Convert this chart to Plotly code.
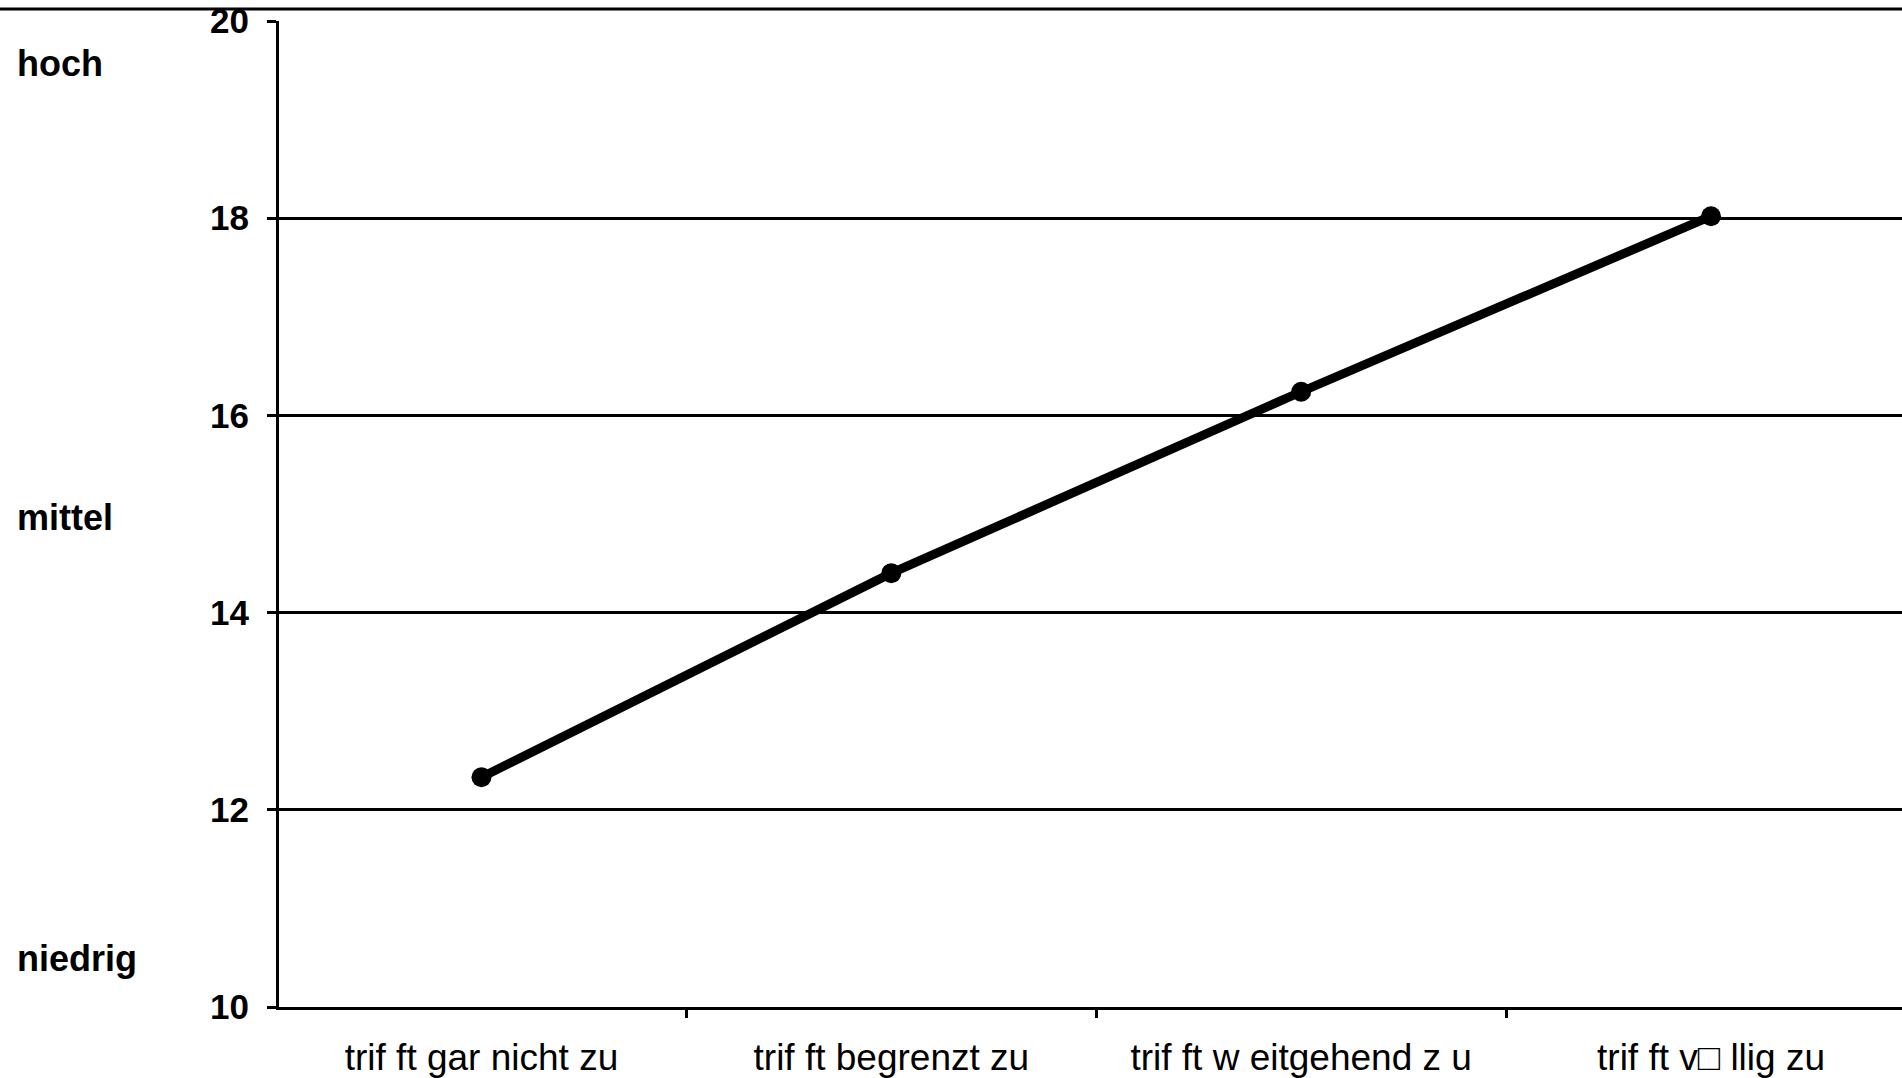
import plotly.graph_objects as go

categories = ["trif ft gar nicht zu", "trif ft begrenzt zu", "trif ft w eitgehend z u", "trif ft v\u25a1 llig zu"]
values = [12.33, 14.40, 16.24, 18.02]
y_ticks = [10, 12, 14, 16, 18, 20]
level_labels = ["hoch", "mittel", "niedrig"]
level_positions = [19.57, 14.96, 10.49]

W, H = 1902, 1078
ML, MT, MB, MR = 279, 21, 71, 0
plot_w = W - ML - MR

FONT = "Liberation Sans, Arial, sans-serif"

fig = go.Figure()
fig.add_trace(go.Scatter(
    x=categories, y=values,
    mode="lines+markers",
    line=dict(color="black", width=9),
    marker=dict(color="black", size=20, symbol="circle"),
    showlegend=False, hoverinfo="skip",
))

annotations = []
for lab, pos in zip(level_labels, level_positions):
    annotations.append(dict(
        text=lab, x=(15 - ML) / plot_w, xref="paper", xanchor="left",
        y=pos, yref="y", yanchor="middle", showarrow=False,
        font=dict(family=FONT, size=36, color="black", weight="bold"),
    ))

fig.update_layout(
    width=W, height=H,
    margin=dict(l=ML, r=MR, t=MT, b=MB, pad=0),
    paper_bgcolor="white", plot_bgcolor="white",
    showlegend=False,
    annotations=annotations,
    shapes=[dict(type="line", xref="paper", yref="paper",
                 x0=-ML / plot_w, x1=1, y0=1 + 12 / (H - MT - MB), y1=1 + 12 / (H - MT - MB),
                 line=dict(color="black", width=3))],
    xaxis=dict(
        type="category",
        categoryorder="array", categoryarray=categories,
        range=[-0.494, 3.466],
        tickson="boundaries", ticks="outside", ticklen=8, tickwidth=3, tickcolor="black",
        showgrid=False, zeroline=False,
        showline=True, linecolor="black", linewidth=3,
        tickfont=dict(family=FONT, size=37, color="black"),
        ticklabelstandoff=16,
    ),
    yaxis=dict(
        range=[10, 20],
        tickmode="array", tickvals=y_ticks, ticktext=[str(v) for v in y_ticks],
        ticks="outside", ticklen=9, tickwidth=3, tickcolor="black",
        showgrid=True, gridcolor="black", gridwidth=2.5,
        zeroline=False,
        showline=True, linecolor="black", linewidth=3,
        tickfont=dict(family=FONT, size=35, color="black", weight="bold"),
        ticklabelstandoff=11,
    ),
)

fig.write_html("out.html", config={"displayModeBar": False},
               post_script="document.body.style.margin='0';document.body.style.overflow='hidden';")
